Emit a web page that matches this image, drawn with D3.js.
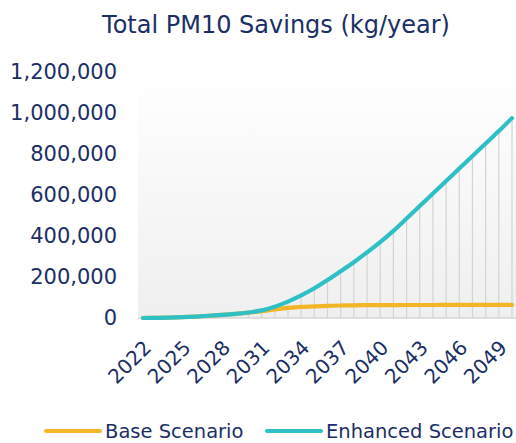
<!DOCTYPE html>
<html>
<head>
<meta charset="utf-8">
<script src="https://cdn.jsdelivr.net/npm/d3@7"></script>
<style>
  body { margin: 0; background: #fff; }
  text { font-family: "DejaVu Sans", sans-serif; fill: #1b2f66; }
</style>
</head>
<body>
<svg id="chart" width="516" height="443"></svg>
<script>
// values (kg/year)
const years = d3.range(2022, 2051);
const baseScenario = [0, 1000, 2000, 4000, 7000, 11000, 15000, 20000, 26000, 33000, 42000, 49000, 54000, 57000, 59000,
  61000, 62000, 62500, 63000, 63000, 63500, 63500, 63500, 64000, 64000, 64000, 64000, 64000, 64000];
const enhancedScenario = [0, 1000, 2000, 4000, 7000, 11000, 15000, 20000, 27000, 37000, 55000, 80000, 110000, 145000, 185000,
  228000, 272000, 320000, 370000, 425000, 485000, 546000, 607000, 668000, 729000, 790000, 851000, 912000, 975000];
const yTicks = [0, 200000, 400000, 600000, 800000, 1000000, 1200000];
const xLabelYears = [2022, 2025, 2028, 2031, 2034, 2037, 2040, 2043, 2046, 2049];
const seriesNames = ["Base Scenario", "Enhanced Scenario"];
const seriesColors = ["#f2b527", "#2fc0c6"];

const svg = d3.select("#chart");
const plotL = 138, plotR = 516, plotT = 72, plotB = 318;

const x = d3.scalePoint().domain(years).range([143, 512]);
const y = d3.scaleLinear().domain([0, 1200000]).range([plotB, plotT]);

// gradient background of plot area
const grad = svg.append("defs").append("linearGradient")
  .attr("id", "bg").attr("x1", 0).attr("x2", 0).attr("y1", 0).attr("y2", 1);
grad.append("stop").attr("offset", "0%").attr("stop-color", "#ffffff");
grad.append("stop").attr("offset", "100%").attr("stop-color", "#efefef");

svg.append("rect")
  .attr("x", plotL).attr("y", plotT)
  .attr("width", plotR - plotL).attr("height", plotB - plotT)
  .attr("fill", "url(#bg)");

// title
svg.append("text")
  .attr("x", 276).attr("y", 33)
  .attr("text-anchor", "middle")
  .attr("font-size", 24)
  .text("Total PM10 Savings (kg/year)");

// y axis labels
const yAxis = d3.axisLeft(y).tickValues(yTicks).tickSize(0).tickPadding(0)
  .tickFormat(d3.format(","));
svg.append("g")
  .attr("transform", "translate(117,0)")
  .call(yAxis)
  .call(g => g.select(".domain").remove())
  .selectAll("text")
  .attr("font-size", 21)
  .attr("font-family", "DejaVu Sans, sans-serif")
  .attr("fill", "#1b2f66");

// drop lines from the enhanced series
svg.append("g").selectAll("line")
  .data(years)
  .join("line")
  .attr("x1", d => x(d)).attr("x2", d => x(d))
  .attr("y1", plotB)
  .attr("y2", (d, i) => y(enhancedScenario[i]))
  .attr("stroke", "#d4d4d4")
  .attr("stroke-width", 1.2);

// baseline
svg.append("line")
  .attr("x1", plotL).attr("x2", plotR)
  .attr("y1", plotB).attr("y2", plotB)
  .attr("stroke", "#d6d6d6").attr("stroke-width", 1.3);

// x axis labels
const xAxis = d3.axisBottom(x).tickValues(xLabelYears).tickSize(0).tickPadding(0);
svg.append("g")
  .attr("transform", `translate(0,${plotB})`)
  .call(xAxis)
  .call(g => g.select(".domain").remove())
  .selectAll("text")
  .attr("font-size", 20)
  .attr("font-family", "DejaVu Sans, sans-serif")
  .attr("fill", "#1b2f66")
  .attr("text-anchor", "end")
  .attr("dy", null)
  .attr("transform", "translate(9,31) rotate(-45)")
  .attr("y", 0).attr("x", 0);

// series lines
const line = d3.line()
  .x((d, i) => x(years[i]))
  .y(d => y(d))
  .curve(d3.curveMonotoneX);

[baseScenario, enhancedScenario].forEach((vals, k) => {
  svg.append("path")
    .datum(vals)
    .attr("d", line)
    .attr("fill", "none")
    .attr("stroke", seriesColors[k])
    .attr("stroke-width", 4.2)
    .attr("stroke-linecap", "round")
    .attr("stroke-linejoin", "round");
});

// legend
const legendX = [46, 267];
seriesNames.forEach((name, k) => {
  const g = svg.append("g").attr("transform", `translate(${legendX[k]},431)`);
  g.append("line")
    .attr("x1", 0).attr("x2", 54)
    .attr("stroke", seriesColors[k]).attr("stroke-width", 4)
    .attr("stroke-linecap", "round");
  g.append("text")
    .attr("x", 59).attr("y", 7)
    .attr("font-size", 19.5)
    .text(name);
});
</script>
</body>
</html>
